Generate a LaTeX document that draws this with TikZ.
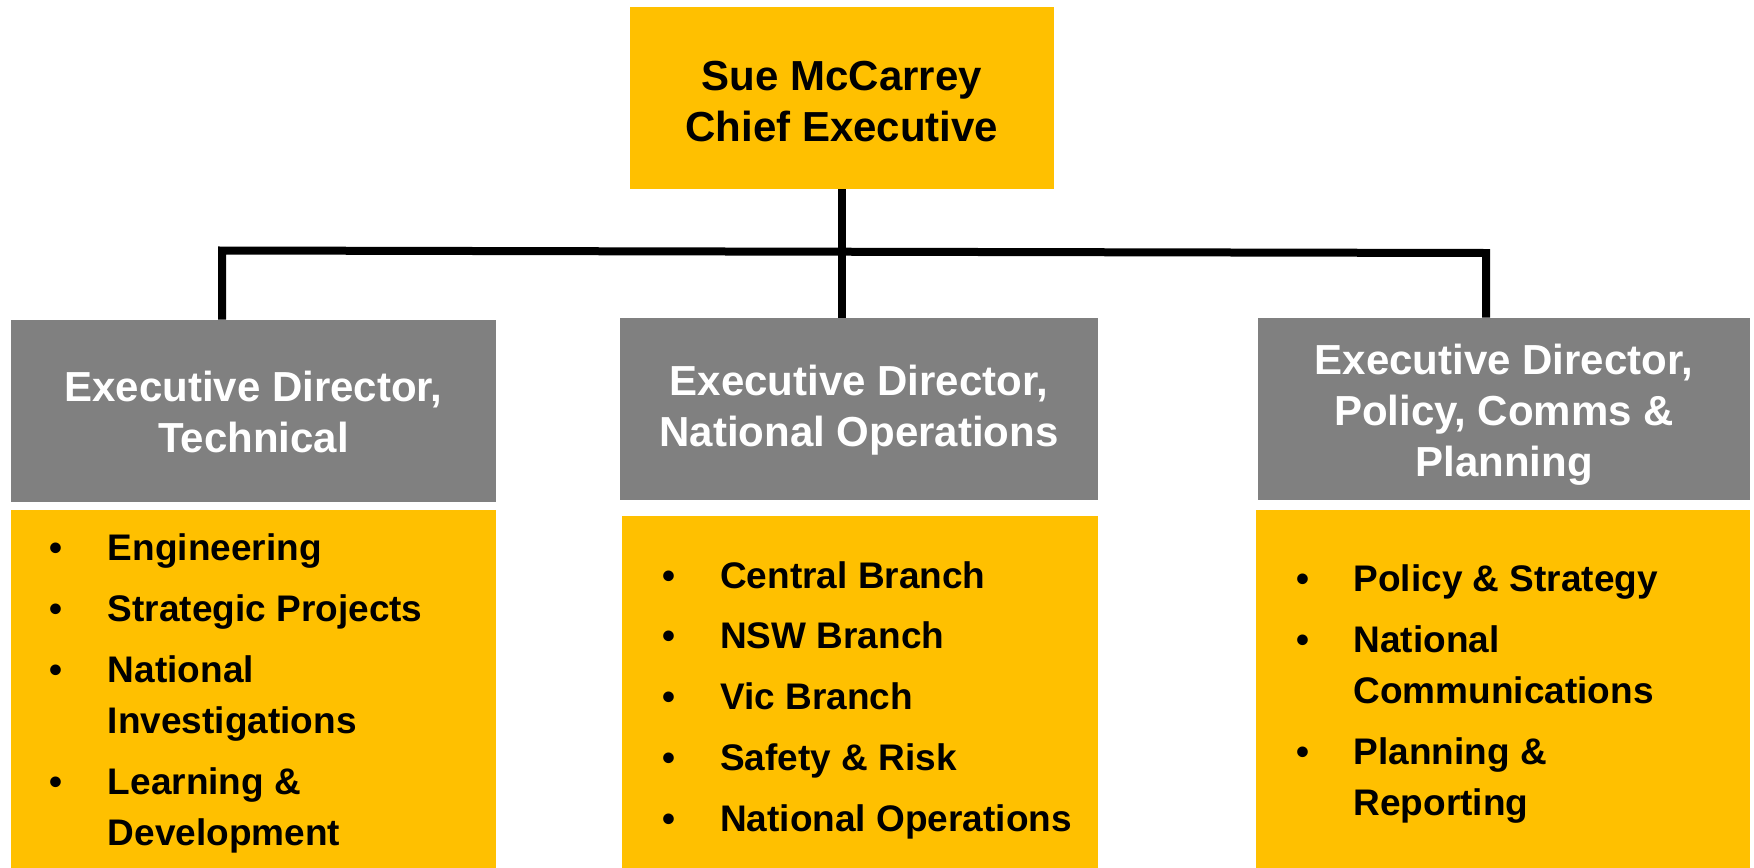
\documentclass[tikz,border=0pt]{standalone}
\usepackage{fontspec}
\setmainfont{Liberation Sans}
\usepackage{array}

\definecolor{chartgold}{HTML}{FFC000}
\definecolor{chartgrey}{HTML}{808080}

\tikzset{
  headbox/.style={draw=none, fill=chartgold, inner sep=0pt, align=center,
    font=\fontsize{31.5}{38.25}\selectfont\bfseries, text=black},
  dirbox/.style={draw=none, fill=chartgrey, inner sep=0pt, align=center,
    font=\fontsize{31.5}{38.25}\selectfont\bfseries, text=white},
  unitbox/.style={draw=none, fill=chartgold, inner sep=0pt},
  unitlist/.style={anchor=base west, inner sep=0pt,
    font=\fontsize{27.75}{38.5}\selectfont\bfseries, text=black},
  link/.style={draw=black, line width=6pt, line join=miter}
}

\begin{document}
\begin{tikzpicture}[x=0.75pt,y=0.75pt,yscale=-1,xscale=1]
\path [use as bounding box] (0,0) rectangle (1754,868);

%Shape: Rectangle (chief executive)
\draw (842,98) node [headbox, minimum width=318pt, minimum height=136.5pt] (ceo) {\rule{0pt}{28pt}Sue McCarrey\\Chief Executive};

%Shape: Rectangle (directors)
\draw (253.5,411) node [dirbox, minimum width=363.75pt, minimum height=136.5pt] (tech) {\rule{0pt}{25pt}Executive Director,\\Technical};
\draw (859,409) node [dirbox, minimum width=358.5pt, minimum height=136.5pt] (ops) {\rule{0pt}{25pt}Executive Director,\\National Operations};
\draw (1504,409) node [dirbox, text depth=0pt, minimum width=369pt, minimum height=136.5pt] (pol) {\rule{0pt}{25pt}Executive Director,\\Policy, Comms \&\\Planning};

%Shape: Rectangle (units)
\draw (253.5,689) node [unitbox, minimum width=363.75pt, minimum height=268.5pt] (techunits) {};
\draw (860,692) node [unitbox, minimum width=357pt, minimum height=264pt] (opsunits) {};
\draw (1503,689) node [unitbox, minimum width=370.5pt, minimum height=268.5pt] (polunits) {};

%Straight Lines
\coordinate (barL) at (222,250.5);
\coordinate (barR) at (1486,253);
\draw [link] (barL |- tech.north) -- (barL) -- (barR) -- (barR |- pol.north);
\draw [link] (ceo.south) -- (ceo.south |- ops.north);

% Text Node
\draw (49,560.5) node [unitlist] (techlist) {\begin{tabular}[t]{@{}p{44pt}@{}l@{}}
\textbullet & Engineering\\[7.1pt]
\textbullet & Strategic Projects\\[7.1pt]
\textbullet & National\\
 & Investigations\\[7.1pt]
\textbullet & Learning \&\\
 & Development
\end{tabular}};
% Text Node
\draw (662,588) node [unitlist] (opslist) {\begin{tabular}[t]{@{}p{43.5pt}@{}l@{}}
\textbullet & Central Branch\\[7.1pt]
\textbullet & NSW Branch\\[7.1pt]
\textbullet & Vic Branch\\[7.1pt]
\textbullet & Safety \& Risk\\[7.1pt]
\textbullet & National Operations
\end{tabular}};
% Text Node
\draw (1296,591.5) node [unitlist] (pollist) {\begin{tabular}[t]{@{}p{43pt}@{}l@{}}
\textbullet & Policy \& Strategy\\[7.1pt]
\textbullet & National\\
 & Communications\\[7.1pt]
\textbullet & Planning \&\\
 & Reporting
\end{tabular}};

\end{tikzpicture}
\end{document}
